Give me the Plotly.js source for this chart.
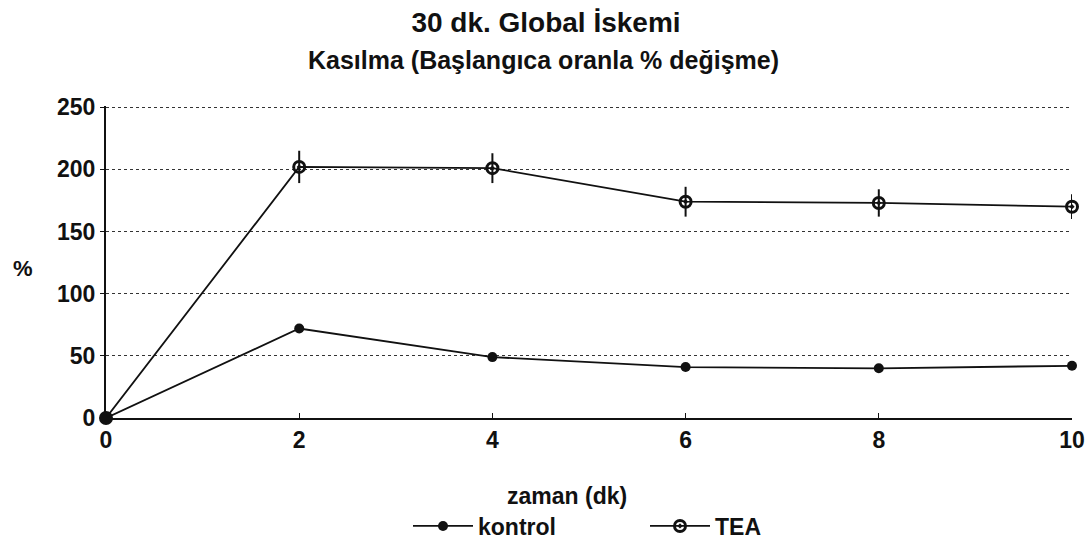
<!DOCTYPE html>
<html>
<head>
<meta charset="utf-8">
<script src="https://cdn.plot.ly/plotly-3.0.1.min.js"></script>
<style>html,body{margin:0;padding:0;background:#fff;}#chart{width:1092px;height:551px;}</style>
</head>
<body>
<div id="chart"></div>
<script>
// Data
const timeMin = [0, 2, 4, 6, 8, 10];
const kontrolValues = [0, 72, 49, 41, 40, 42];
const teaValues = [0, 202, 201, 174, 173, 170];
const teaErrors = [0, 13, 12, 12, 11, 10];
const xTickVals = [0, 2, 4, 6, 8, 10];
const yTickVals = [0, 50, 100, 150, 200, 250];

const FONT = 'Liberation Sans, Arial, sans-serif';
const INK = '#111111';
const bold = (size) => ({family: FONT, size: size, color: INK, weight: 'bold'});

const traces = [
  {
    x: timeMin, y: kontrolValues, name: 'kontrol', type: 'scatter', mode: 'lines+markers',
    line: {color: INK, width: 1.8},
    marker: {symbol: 'circle', size: 10, color: INK},
    cliponaxis: false
  },
  {
    x: timeMin, y: teaValues, name: 'TEA', type: 'scatter', mode: 'lines+markers',
    line: {color: INK, width: 1.8},
    marker: {symbol: 'circle-open-dot', size: 11, color: INK, line: {color: INK, width: 3}},
    error_y: {type: 'data', array: teaErrors, visible: true, width: 0, thickness: 2, color: INK},
    cliponaxis: false
  }
];

const layout = {
  width: 1092, height: 551,
  margin: {l: 106, r: 20, t: 106, b: 133, autoexpand: false},
  paper_bgcolor: '#ffffff', plot_bgcolor: 'rgba(0,0,0,0)',
  font: {family: FONT, color: INK},
  title: {
    text: '30 dk. Global İskemi',
    font: bold(28),
    x: 0.5, xref: 'container', xanchor: 'center',
    y: 1 - 22/551, yref: 'container', yanchor: 'middle',
    automargin: false
  },
  annotations: [
    {text: 'Kasılma (Başlangıca oranla % değişme)', xref: 'paper', yref: 'paper',
     x: (543 - 106) / 966, y: (418 - 60) / 312, xanchor: 'center', yanchor: 'middle',
     showarrow: false, font: bold(25)},
    {text: '%', xref: 'paper', yref: 'paper',
     x: (23 - 106) / 966, y: (418 - 268) / 312, xanchor: 'center', yanchor: 'middle',
     showarrow: false, font: bold(22)},
    {text: 'zaman (dk)', xref: 'paper', yref: 'paper',
     x: (567 - 106) / 966, y: (418 - 496) / 312, xanchor: 'center', yanchor: 'middle',
     showarrow: false, font: bold(23)}
  ],
  xaxis: {
    range: [0, 10], tickvals: xTickVals, ticktext: xTickVals.map(String),
    showline: true, linecolor: INK, linewidth: 2, zeroline: false, showgrid: false,
    ticks: 'inside', ticklen: 5, tickcolor: INK, tickwidth: 1,
    tickfont: bold(23), automargin: false,
    fixedrange: true
  },
  yaxis: {
    range: [0, 251], tickvals: yTickVals, ticktext: yTickVals.map(String),
    showline: true, linecolor: INK, linewidth: 2, zeroline: false,
    showgrid: true, gridcolor: '#333333', gridwidth: 1, griddash: 'dot',
    ticks: 'outside', ticklen: 4, tickcolor: INK, tickwidth: 1,
    tickfont: bold(23), automargin: false,
    fixedrange: true
  },
  showlegend: true,
  legend: {
    orientation: 'h', x: (408 - 106) / 966, xanchor: 'left',
    y: (418 - 526) / 312, yanchor: 'middle',
    font: bold(23),
    itemwidth: 60,
    entrywidth: 162, entrywidthmode: 'pixels',
    bgcolor: 'rgba(0,0,0,0)'
  }
};

Plotly.newPlot('chart', traces, layout, {displayModeBar: false, staticPlot: true});
</script>
</body>
</html>
